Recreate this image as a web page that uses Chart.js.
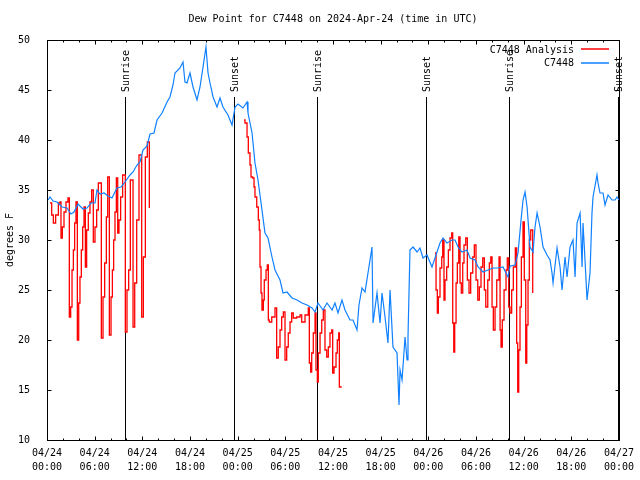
<!DOCTYPE html>
<html><head><meta charset="utf-8">
<script src="https://cdn.jsdelivr.net/npm/chart.js@4/dist/chart.umd.min.js"></script>
<style>html,body{margin:0;padding:0;background:#fff;}#wrap{width:640px;height:480px;}</style>
</head><body><div id="wrap"><canvas id="c" width="640" height="480"></canvas></div>
<script>
const titleText = "Dew Point for C7448 on 2024-Apr-24 (time in UTC)";
const yAxisTitle = "degrees F";
const seriesNames = ["C7448 Analysis", "C7448"];
const xTickHours = [0, 6, 12, 18, 24, 30, 36, 42, 48, 54, 60, 66, 72];
const xTickLabels = [["04/24","00:00"],["04/24","06:00"],["04/24","12:00"],["04/24","18:00"],
  ["04/25","00:00"],["04/25","06:00"],["04/25","12:00"],["04/25","18:00"],
  ["04/26","00:00"],["04/26","06:00"],["04/26","12:00"],["04/26","18:00"],["04/27","00:00"]];
const eventNames = ["Sunrise","Sunset","Sunrise","Sunset","Sunrise","Sunset"];
const eventHours = [9.82, 23.57, 34.03, 47.74, 58.19, 71.92];

const blueHours = [0.13,0.38,0.76,1.26,1.89,2.52,3.02,3.40,3.90,4.53,5.04,5.54,6.04,6.29,6.67,7.18,7.68,8.18,8.81,9.32,9.82,10.45,10.83,11.33,11.71,12.08,12.59,12.97,13.47,13.85,14.48,15.11,15.48,15.86,16.11,16.74,17.12,17.37,17.62,18.00,18.38,18.88,19.26,19.64,20.01,20.27,20.52,20.90,21.40,21.78,22.15,22.78,23.29,23.67,24.04,24.67,25.18,25.30,25.81,26.18,26.56,27.06,27.44,27.82,28.32,28.70,29.33,29.71,30.21,30.84,31.47,32.10,32.73,33.36,33.74,34.11,34.74,35.25,35.88,36.25,36.63,37.13,37.51,38.14,38.52,39.02,39.27,39.65,40.03,40.66,40.91,41.04,41.54,41.92,42.17,42.55,42.92,43.18,43.55,44.06,44.31,44.44,44.69,45.07,45.32,45.44,45.69,46.07,46.58,46.95,47.33,47.83,48.46,48.84,49.47,49.85,50.35,50.98,51.36,51.74,52.24,52.87,53.25,53.88,54.26,54.89,55.51,56.14,56.77,57.40,58.03,58.29,58.92,59.29,59.67,59.92,60.17,60.43,60.80,61.18,61.43,61.69,62.06,62.44,62.94,63.32,63.57,63.70,64.20,64.58,64.83,65.21,65.46,65.84,66.21,66.47,66.72,67.10,67.35,67.47,67.72,67.98,68.35,68.60,68.73,69.23,69.36,69.61,69.99,70.24,70.62,71.12,71.50,71.75,72.00];
const blueValues = [34.0,34.3,33.9,33.8,33.3,33.2,32.6,32.8,33.6,33.1,33.2,33.7,33.7,35.0,34.6,34.7,34.4,34.2,35.2,35.3,35.8,36.5,36.8,37.5,37.8,39.0,39.4,40.6,40.7,42.0,42.7,43.8,44.3,45.5,46.7,47.2,47.8,45.8,45.7,46.7,45.3,44.0,45.3,47.3,49.3,46.7,45.7,44.3,43.3,44.2,43.3,42.5,41.5,43.3,43.6,43.2,43.8,42.7,40.7,37.7,36.0,33.0,30.7,30.2,28.3,27.0,26.0,24.7,24.8,24.2,24.0,23.7,23.5,23.2,22.8,23.7,23.0,23.7,23.0,23.7,22.7,24.0,23.0,22.0,22.0,21.0,23.5,25.2,24.8,28.0,29.3,21.7,24.7,21.7,24.7,22.3,19.7,25.0,19.3,18.7,13.5,17.0,16.0,20.3,18.0,20.3,29.0,29.3,28.8,29.2,28.2,28.5,27.3,28.2,29.7,30.2,29.7,30.0,30.0,29.3,28.8,29.0,28.2,28.0,27.3,26.8,27.0,27.2,27.2,27.3,26.3,27.4,27.5,28.7,32.0,34.0,34.8,33.3,29.3,28.8,31.3,32.7,31.3,29.3,28.5,28.0,26.7,25.7,29.2,27.3,25.0,28.3,26.3,29.3,30.0,26.3,31.7,32.7,27.3,31.7,28.0,24.0,26.7,32.7,34.3,36.5,35.7,34.7,34.7,33.5,34.5,34.0,34.0,34.3,34.0];

const redHours = [0.38,0.59,0.80,1.09,1.43,1.64,1.76,1.93,2.14,2.39,2.64,2.81,2.98,3.15,3.32,3.48,3.65,3.82,3.99,4.15,4.32,4.49,4.66,4.83,4.99,5.20,5.41,5.62,5.83,6.04,6.25,6.46,6.84,7.05,7.26,7.47,7.64,7.85,8.06,8.23,8.39,8.56,8.73,8.90,9.06,9.27,9.52,9.86,10.07,10.28,10.49,10.83,11.04,11.29,11.58,11.92,12.13,12.38,12.63,12.88,
  18.0,
  24.80,24.92,25.18,25.34,25.55,25.68,25.89,26.06,26.18,26.40,26.60,26.72,26.81,26.94,27.06,27.23,27.35,27.57,27.73,27.86,27.98,28.29,28.70,28.91,29.11,29.33,29.54,29.75,29.96,30.17,30.37,30.59,30.80,31.00,31.43,31.85,32.06,32.48,32.89,33.02,33.19,33.32,33.52,33.74,33.86,34.03,34.15,34.37,34.58,34.78,34.99,35.21,35.41,35.62,35.84,35.96,36.13,36.38,36.54,36.72,36.80,37.10,
  42.0,
  48.84,48.97,49.13,49.26,49.47,49.69,49.81,49.97,50.10,50.31,50.52,50.73,50.94,51.07,51.20,51.32,51.49,51.65,51.83,51.99,52.15,52.33,52.49,52.71,52.91,53.12,53.33,53.59,53.79,54.00,54.22,54.42,54.63,54.85,55.05,55.23,55.48,55.68,55.86,56.02,56.18,56.40,56.61,56.90,57.03,57.15,57.31,57.53,57.78,57.94,58.12,58.28,58.49,58.70,58.95,59.12,59.25,59.38,59.54,59.71,59.92,60.08,60.26,60.39,60.55,60.71,60.89,61.05,61.14];
const redValues = [33.7,32.5,31.7,32.5,33.7,33.8,30.2,31.3,32.8,33.8,34.2,22.3,23.3,27.0,29.0,31.7,33.8,20.0,23.7,26.3,29.0,31.3,33.3,27.3,31.0,32.7,33.8,35.0,29.8,31.3,33.0,35.7,20.2,24.3,27.7,32.3,36.3,20.5,24.3,27.0,30.0,32.8,36.2,30.7,32.0,34.3,36.5,20.8,25.0,27.0,36.0,21.3,25.7,32.0,38.5,22.3,28.3,38.3,39.8,33.2,
  null,
  42.0,41.7,40.3,38.7,37.5,36.3,36.2,35.3,34.3,33.3,32.0,31.0,27.3,24.7,23.0,24.0,26.0,27.0,27.5,22.0,21.8,22.3,23.2,18.2,19.3,21.0,22.3,22.8,18.0,19.3,20.7,21.8,22.7,22.2,22.3,22.5,21.8,22.5,23.2,17.7,16.8,18.7,20.7,22.7,17.0,15.8,18.7,20.7,22.0,23.0,19.0,18.3,19.3,20.7,21.0,16.7,17.3,18.7,20.0,20.7,15.3,15.3,
  null,
  28.7,25.0,22.7,24.3,27.2,28.3,30.0,24.0,26.0,27.3,29.0,30.2,30.7,21.7,18.8,21.7,25.7,27.7,30.3,25.7,24.7,27.7,29.5,30.2,26.0,24.7,26.7,28.3,29.5,26.0,24.0,25.3,27.3,28.2,25.0,23.3,26.0,27.7,28.3,23.3,21.0,23.3,26.0,28.3,21.0,19.3,22.0,25.0,27.0,28.2,23.3,22.7,25.0,27.3,29.2,19.7,14.8,19.0,23.3,28.3,31.8,26.0,17.7,21.5,26.0,30.0,31.0,31.0,24.7];

const redColor = '#ff0000';
const blueColor = '#0f80ff';
const FONT = '"DejaVu Sans Mono", "Liberation Mono", monospace';

const gp = {
  id: 'gp',
  beforeDatasetsDraw(chart) {
    const {ctx, chartArea: a, scales: {x}} = chart;
    ctx.save();
    ctx.strokeStyle = '#000'; ctx.lineWidth = 1; ctx.fillStyle = '#000';
    ctx.font = '10px ' + FONT;
    eventHours.forEach((h, i) => {
      const px = Math.round(x.getPixelForValue(h)) + 0.5;
      ctx.beginPath(); ctx.moveTo(px, a.top + 57); ctx.lineTo(px, a.bottom); ctx.stroke();
      ctx.save(); ctx.translate(px + 1, a.top + 52); ctx.rotate(-Math.PI / 2);
      ctx.textAlign = 'left'; ctx.textBaseline = 'middle';
      ctx.fillText(eventNames[i], 0, 0); ctx.restore();
    });
    ctx.restore();
  },
  afterDraw(chart) {
    const {ctx, chartArea: a, scales: {x, y}} = chart;
    ctx.save();
    ctx.strokeStyle = '#000'; ctx.lineWidth = 1; ctx.fillStyle = '#000';
    const L = Math.round(a.left) + 0.5, R = Math.round(a.right) + 0.5;
    const T = Math.round(a.top) + 0.5, B = Math.round(a.bottom) + 0.5;
    ctx.beginPath();
    for (let h = 0; h <= 72; h += 2) {
      const px = Math.round(x.getPixelForValue(h)) + 0.5;
      const len = (h % 6 === 0) ? 4 : 2;
      ctx.moveTo(px, B); ctx.lineTo(px, B - len);
      ctx.moveTo(px, T); ctx.lineTo(px, T + len);
    }
    for (let v = 10; v <= 50; v += 5) {
      const py = Math.round(y.getPixelForValue(v)) + 0.5;
      ctx.moveTo(L, py); ctx.lineTo(L + 4, py);
      ctx.moveTo(R, py); ctx.lineTo(R - 4, py);
    }
    ctx.stroke();
    ctx.strokeRect(L, T, R - L, B - T);
    ctx.font = '10px ' + FONT;
    ctx.textAlign = 'center'; ctx.textBaseline = 'middle';
    ctx.fillText(titleText, (a.left + a.right) / 2, 19);
    ctx.save(); ctx.translate(10, (a.top + a.bottom) / 2); ctx.rotate(-Math.PI / 2);
    ctx.fillText(yAxisTitle, 0, 0); ctx.restore();
    const colors = [redColor, blueColor];
    seriesNames.forEach((n, i) => {
      const ly = a.top + 10 + i * 13.5;
      ctx.textAlign = 'right'; ctx.fillStyle = '#000';
      ctx.fillText(n, a.right - 45, ly);
      ctx.strokeStyle = colors[i]; ctx.lineWidth = 1.5;
      ctx.beginPath(); ctx.moveTo(a.right - 38, Math.round(ly) - 1); ctx.lineTo(a.right - 10, Math.round(ly) - 1); ctx.stroke();
    });
    ctx.restore();
  }
};

const redData = redHours.map((h, i) => ({x: h, y: redValues[i]}));
const blueData = blueHours.map((h, i) => ({x: h, y: blueValues[i]}));

new Chart(document.getElementById('c'), {
  type: 'line',
  data: {
    datasets: [
      {label: seriesNames[0], data: redData, borderColor: redColor, borderWidth: 1.3, stepped: true, pointRadius: 0, spanGaps: false, order: 1},
      {label: seriesNames[1], data: blueData, borderColor: blueColor, borderWidth: 1.2, tension: 0, pointRadius: 0, order: 0}
    ]
  },
  options: {
    responsive: false, animation: false, devicePixelRatio: 1,
    layout: {padding: {left: 0, right: 21, top: 40, bottom: 0}},
    plugins: {legend: {display: false}, tooltip: {enabled: false}, title: {display: false}},
    scales: {
      x: {
        type: 'linear', min: 0, max: 72,
        grid: {display: false}, border: {display: false},
        afterBuildTicks: s => { s.ticks = xTickHours.map(v => ({value: v})); },
        afterFit: s => { s.height = 40; },
        ticks: {autoSkip: false, maxRotation: 0, minRotation: 0, padding: -2, color: '#000',
          font: {family: FONT, size: 10, lineHeight: 1.4},
          callback: (v, i) => xTickLabels[i]}
      },
      y: {
        min: 10, max: 50,
        grid: {display: false}, border: {display: false},
        afterFit: s => { s.width = 47; },
        ticks: {stepSize: 5, padding: 9, color: '#000', font: {family: FONT, size: 10}}
      }
    }
  },
  plugins: [gp]
});
</script></body></html>
